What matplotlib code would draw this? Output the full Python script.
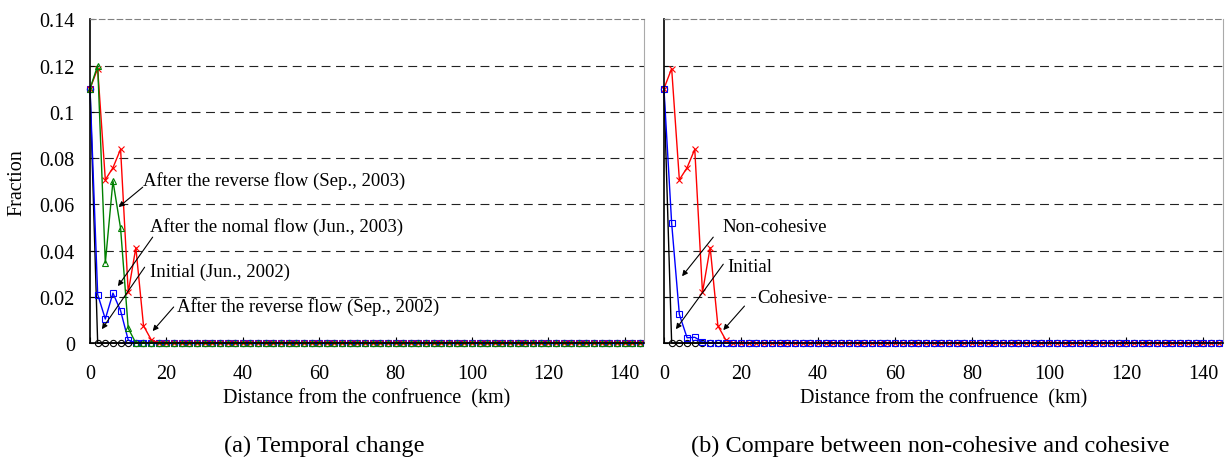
import numpy as np
import matplotlib.pyplot as plt

plt.rcParams['font.family'] = ['Liberation Serif', 'DejaVu Serif']

# distance along the river, every 2 km
dist = np.arange(0, 146, 2)
n = len(dist)

def pad(head):
    # remaining points downstream are zero
    return np.array(head + [0.0] * (n - len(head)))

initial = pad([0.11, 0.0])
rev_2002 = pad([0.11, 0.021, 0.0104, 0.0216, 0.014, 0.0013])
normal_2003 = pad([0.11, 0.12, 0.0346, 0.0701, 0.0496, 0.0064])
rev_2003 = pad([0.11, 0.1187, 0.0706, 0.0758, 0.0838, 0.0219, 0.0413, 0.0075, 0.0015])

cohesive = pad([0.11, 0.0518, 0.0124, 0.0023, 0.0025, 0.0005])
non_cohesive = rev_2003

yticks = [0, 0.02, 0.04, 0.06, 0.08, 0.1, 0.12, 0.14]
xticks = [0, 20, 40, 60, 80, 100, 120, 140]

fig = plt.figure(figsize=(12.25, 4.6), dpi=100)
ax1 = fig.add_axes([0.0735, 0.252, 0.452, 0.704])
ax2 = fig.add_axes([0.542, 0.252, 0.456, 0.704])

fs_tick = 14.5
fs_note = 13.5


def style(ax, show_y):
    ax.set_xlim(0, 145)
    ax.set_ylim(0, 0.14)
    ax.set_xticks(xticks)
    ax.set_yticks(yticks)
    ax.set_yticklabels(['%g' % v for v in yticks] if show_y else [])
    ax.tick_params(axis='x', direction='in', length=4, labelsize=fs_tick, pad=15)
    ax.tick_params(axis='y', direction='in', length=3, labelsize=fs_tick, pad=11)
    for v in yticks[1:-1]:
        ax.axhline(v, color='#222222', lw=0.8, ls=(0, (8, 5)), zorder=0)
    ax.spines['top'].set_color('gray')
    ax.spines['top'].set_linestyle((0, (5, 3)))
    ax.spines['right'].set_color('#aaaaaa')
    ax.spines['left'].set_linewidth(1.2)
    ax.spines['bottom'].set_linewidth(1.2)
    ax.set_xlabel('Distance from the confruence  (km)', fontsize=fs_tick, labelpad=4)


def annotate(ax, text, head, tail, textpos, bg=True):
    ax.annotate('', xy=head, xytext=tail,
                arrowprops=dict(arrowstyle='-|>', color='black', lw=0.8,
                                mutation_scale=8, shrinkA=0, shrinkB=0))
    box = dict(facecolor='white', edgecolor='none', pad=1) if bg else None
    ax.text(textpos[0], textpos[1], text, fontsize=fs_note, va='center', ha='left',
            bbox=box, zorder=1)


mk = dict(markersize=4.5, markerfacecolor='none', lw=1.0, markeredgewidth=0.8, clip_on=False)

# (a) temporal change
ax1.plot(dist, initial, color='black', marker='o', **mk)
ax1.plot(dist, rev_2002, color='blue', marker='s', **mk)
ax1.plot(dist, rev_2003, color='red', marker='x', **mk)
ax1.plot(dist, normal_2003, color='green', marker='^', **mk)
style(ax1, True)
ax1.set_ylabel('Fraction', fontsize=fs_tick)
ax1.yaxis.set_label_coords(-0.115, 0.5)

annotate(ax1, 'After the reverse flow (Sep., 2003)', (7.5, 0.0588), (13.8, 0.0674), (13.9, 0.0705))
annotate(ax1, 'After the nomal flow (Jun., 2003)', (7.3, 0.0246), (16.4, 0.0458), (15.6, 0.0505))
annotate(ax1, 'Initial (Jun., 2002)', (3.1, 0.006), (14.3, 0.0328), (15.6, 0.0312))
annotate(ax1, 'After the reverse flow (Sep., 2002)', (16.4, 0.0052), (21.9, 0.0156), (22.8, 0.0160),
         bg=False)

# (b) non-cohesive vs cohesive
ax2.plot(dist, initial, color='black', marker='o', **mk)
ax2.plot(dist, non_cohesive, color='red', marker='x', **mk)
ax2.plot(dist, cohesive, color='blue', marker='s', **mk)
style(ax2, False)

annotate(ax2, 'Non-cohesive', (4.7, 0.0289), (12.8, 0.0458), (15.1, 0.0505))
annotate(ax2, 'Initial', (3.1, 0.006), (15.4, 0.0341), (16.4, 0.0332))
annotate(ax2, 'Cohesive', (15.4, 0.0056), (20.9, 0.016), (24.2, 0.0197))

fig.text(0.265, 0.03, '(a) Temporal change', fontsize=17.5, ha='center', va='center')
fig.text(0.759, 0.03, '(b) Compare between non-cohesive and cohesive', fontsize=17.5,
         ha='center', va='center')

fig.savefig('out.png', dpi=100)
